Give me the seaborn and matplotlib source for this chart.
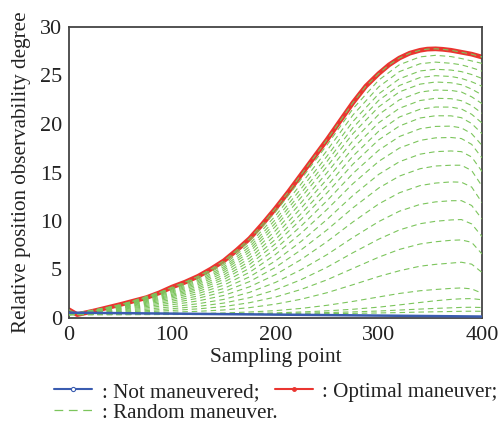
import matplotlib
matplotlib.use("Agg")
import matplotlib.pyplot as plt
import numpy as np
import pandas as pd
import seaborn as sns
from matplotlib.lines import Line2D

# ---------------- data ----------------
# Not maneuvered
blue_x = [0, 50, 100, 150, 200, 250, 300, 350, 400]
blue_y = [0.55, 0.50, 0.45, 0.40, 0.35, 0.30, 0.25, 0.20, 0.15]

# Optimal maneuver
opt_x = [0, 8, 25, 50, 62.5, 75, 87.5, 100, 112.5, 125, 137.5, 150, 162.5,
         175, 187.5, 200, 212.5, 225, 237.5, 250, 262.5, 275, 287.5, 300,
         310, 320, 330, 340, 347, 355, 362, 370, 380, 390, 400]
opt_y = [0.85, 0.35, 0.75, 1.4, 1.75, 2.1, 2.6, 3.2, 3.7, 4.3, 5.05, 5.9, 7.0,
         8.2, 9.7, 11.3, 13.0, 14.8, 16.6, 18.4, 20.3, 22.2, 23.9, 25.2,
         26.1, 26.8, 27.3, 27.6, 27.72, 27.75, 27.7, 27.6, 27.4, 27.2, 26.9]

# Random maneuvers (sampled at rand_x)
rand_x = [0, 50, 100, 125, 150, 175, 200, 225, 250, 275, 300, 320, 340,
          355, 370, 380, 390, 400]
rand_01 = [0.35, 1.36, 3.10, 4.16, 5.70, 7.93, 10.93, 14.34, 17.86, 21.57, 24.53, 26.11, 26.92, 27.08, 26.95, 26.75, 26.50, 26.25]
rand_02 = [0.35, 1.32, 2.99, 4.01, 5.50, 7.64, 10.54, 13.85, 17.28, 20.93, 23.83, 25.40, 26.21, 26.38, 26.26, 26.10, 25.80, 25.45]
rand_03 = [0.35, 1.28, 2.89, 3.87, 5.29, 7.36, 10.15, 13.36, 16.70, 20.26, 23.11, 24.66, 25.47, 25.64, 25.56, 25.40, 25.10, 24.70]
rand_04 = [0.35, 1.25, 2.79, 3.73, 5.10, 7.09, 9.79, 12.91, 16.16, 19.62, 22.44, 23.97, 24.79, 24.98, 24.90, 24.70, 24.35, 23.90]
rand_05 = [0.35, 1.21, 2.69, 3.59, 4.91, 6.83, 9.44, 12.46, 15.62, 19.01, 21.77, 23.31, 24.11, 24.33, 24.25, 24.05, 23.60, 23.00]
rand_06 = [0.35, 1.17, 2.58, 3.44, 4.69, 6.52, 9.01, 11.91, 14.99, 18.27, 20.98, 22.49, 23.29, 23.50, 23.46, 23.30, 22.80, 22.10]
rand_07 = [0.35, 1.13, 2.45, 3.27, 4.45, 6.19, 8.56, 11.35, 14.32, 17.50, 20.13, 21.62, 22.42, 22.65, 22.61, 22.40, 21.90, 21.10]
rand_08 = [0.35, 1.08, 2.33, 3.10, 4.21, 5.86, 8.11, 10.77, 13.62, 16.69, 19.26, 20.72, 21.52, 21.75, 21.74, 21.55, 21.00, 20.10]
rand_09 = [0.35, 1.03, 2.21, 2.93, 3.97, 5.53, 7.65, 10.19, 12.91, 15.86, 18.37, 19.79, 20.62, 20.85, 20.84, 20.65, 20.05, 19.00]
rand_10 = [0.35, 0.98, 2.07, 2.73, 3.69, 5.14, 7.13, 9.50, 12.10, 14.90, 17.30, 18.71, 19.51, 19.75, 19.78, 19.60, 19.00, 17.80]
rand_11 = [0.35, 0.93, 1.91, 2.51, 3.39, 4.72, 6.55, 8.76, 11.20, 13.85, 16.15, 17.52, 18.31, 18.57, 18.61, 18.50, 17.90, 16.50]
rand_12 = [0.35, 0.86, 1.74, 2.27, 3.05, 4.25, 5.89, 7.91, 10.17, 12.63, 14.81, 16.11, 16.89, 17.15, 17.22, 17.15, 16.60, 15.10]
rand_13 = [0.35, 0.80, 1.56, 2.03, 2.71, 3.76, 5.22, 7.04, 9.09, 11.36, 13.40, 14.63, 15.39, 15.67, 15.75, 15.75, 15.20, 13.60]
rand_14 = [0.35, 0.72, 1.37, 1.76, 2.33, 3.22, 4.47, 6.04, 7.88, 9.90, 11.76, 12.91, 13.65, 13.91, 14.03, 14.00, 13.50, 11.90]
rand_15 = [0.35, 0.65, 1.16, 1.47, 1.92, 2.65, 3.67, 4.99, 6.54, 8.30, 9.94, 11.01, 11.71, 11.97, 12.09, 12.10, 11.60, 10.20]
rand_16 = [0.35, 0.57, 0.96, 1.20, 1.54, 2.10, 2.90, 3.96, 5.24, 6.73, 8.13, 9.08, 9.72, 9.97, 10.11, 10.15, 9.70, 8.40]
rand_17 = [0.35, 0.51, 0.78, 0.94, 1.18, 1.58, 2.16, 2.95, 3.94, 5.11, 6.27, 7.07, 7.63, 7.86, 8.01, 8.05, 7.80, 6.60]
rand_18 = [0.35, 0.44, 0.60, 0.69, 0.83, 1.07, 1.43, 1.94, 2.61, 3.43, 4.28, 4.87, 5.34, 5.53, 5.66, 5.75, 5.55, 4.70]
rand_19 = [0.35, 0.38, 0.44, 0.47, 0.52, 0.62, 0.76, 0.99, 1.31, 1.71, 2.17, 2.53, 2.81, 2.94, 3.05, 3.10, 3.00, 2.55]
rand_20 = [0.35, 0.36, 0.39, 0.41, 0.43, 0.47, 0.53, 0.62, 0.74, 0.90, 1.12, 1.35, 1.60, 1.78, 1.92, 1.98, 2.00, 1.88]
rand_21 = [0.35, 0.35, 0.37, 0.38, 0.40, 0.42, 0.45, 0.50, 0.56, 0.63, 0.72, 0.82, 0.92, 0.99, 1.05, 1.09, 1.11, 1.08]
rand_22 = [0.35, 0.35, 0.36, 0.36, 0.37, 0.38, 0.40, 0.42, 0.45, 0.48, 0.52, 0.56, 0.61, 0.64, 0.67, 0.69, 0.70, 0.69]
random_curves = [rand_01, rand_02, rand_03, rand_04, rand_05, rand_06, rand_07,
                 rand_08, rand_09, rand_10, rand_11, rand_12, rand_13, rand_14,
                 rand_15, rand_16, rand_17, rand_18, rand_19, rand_20, rand_21,
                 rand_22]

x_ticks = [0, 100, 200, 300, 400]
y_ticks = [0, 5, 10, 15, 20, 25, 30]
x_label = "Sampling point"
y_label = "Relative position observability degree"
legend_labels = [": Not maneuvered;", ": Optimal maneuver;", ": Random maneuver."]

# ---------------- style ----------------
BLUE = "#3a5cb0"
RED = "#ea3530"
GREEN = "#7cc55c"
FS_TICK = 16
FS_YLAB = 15.2
FS_XLAB = 15.4
FS_LEG = 15.2

sns.set_theme(style="white")
plt.rcParams["font.family"] = ["Liberation Serif", "DejaVu Serif"]

fig = plt.figure(figsize=(5.04, 4.22), dpi=100)
ax = fig.add_axes([69 / 504, 1 - 318 / 422, 413 / 504, 291 / 422])

# long-form frames
green_df = pd.DataFrame({
    "x": np.tile(rand_x, len(random_curves)).tolist() + list(opt_x),
    "y": np.concatenate([np.array(c) for c in random_curves] + [np.array(opt_y)]),
    "curve": np.repeat(np.arange(len(random_curves)), len(rand_x)).tolist()
             + [len(random_curves)] * len(opt_x),
})
opt_df = pd.DataFrame({"x": opt_x, "y": opt_y})
blue_df = pd.DataFrame({"x": blue_x, "y": blue_y})

sns.lineplot(data=opt_df, x="x", y="y", ax=ax, color=RED, linewidth=3.4,
             zorder=2, sort=False)
sns.lineplot(data=green_df, x="x", y="y", units="curve", estimator=None, ax=ax,
             color=GREEN, linewidth=0.8, linestyle=(0, (5, 3.5)), zorder=3,
             legend=False, sort=False)
sns.lineplot(data=blue_df, x="x", y="y", ax=ax, color=BLUE, linewidth=1.8,
             zorder=4, sort=False)

ax.set_xlim(0, 400)
ax.set_ylim(0, 30)
ax.set_xticks(x_ticks)
ax.set_yticks(y_ticks)
ax.tick_params(direction="in", length=4, width=1, labelsize=FS_TICK, pad=5,
               colors="#222222", labelcolor="#222222")
ax.tick_params(axis="x", pad=6)
ax.set_xlabel(x_label, fontsize=FS_XLAB, labelpad=2, color="#222222")
ax.set_ylabel(y_label, fontsize=FS_YLAB, labelpad=6, color="#222222")
for s in ax.spines.values():
    s.set_visible(True)
    s.set_color("#444444")
    s.set_linewidth(1.3)

h_blue = Line2D([], [], color=BLUE, lw=1.5, marker="o", ms=3,
                mfc="white", mec=BLUE, mew=0.8)
h_red = Line2D([], [], color=RED, lw=1.5, marker="o", ms=2.5,
               mfc=RED, mec=RED)
h_green = Line2D([], [], color=GREEN, lw=0.9, linestyle=(0, (7, 4.5)))

leg1 = fig.legend([h_blue, h_red], legend_labels[:2], ncol=2,
                  loc="upper left", bbox_to_anchor=(54 / 504, 1 - 382 / 422),
                  frameon=False, fontsize=FS_LEG, handlelength=1.8,
                  handletextpad=0.45, columnspacing=0.75, borderpad=0,
                  borderaxespad=0)
leg2 = fig.legend([h_green], legend_labels[2:], loc="upper left",
                  bbox_to_anchor=(54 / 504, 1 - 403 / 422), frameon=False,
                  fontsize=FS_LEG, handlelength=1.8, handletextpad=0.45,
                  borderpad=0, borderaxespad=0)
for lg in (leg1, leg2):
    for t in lg.get_texts():
        t.set_color("#222222")

fig.savefig("out.png", dpi=100)
